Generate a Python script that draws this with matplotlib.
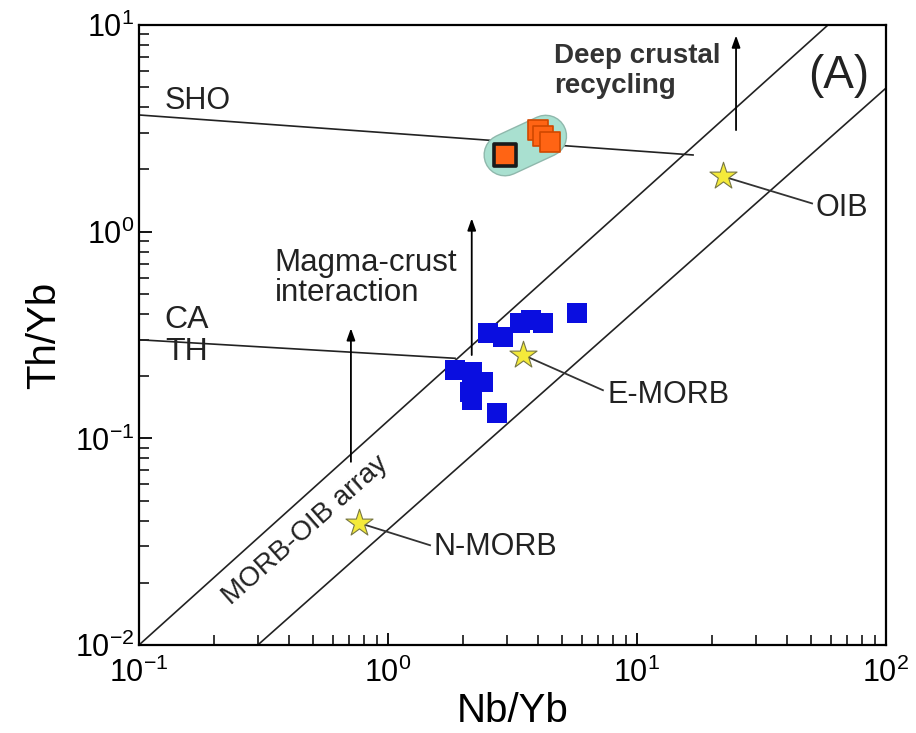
import matplotlib
matplotlib.use("Agg")
import matplotlib.pyplot as plt
from matplotlib.ticker import LogLocator, NullFormatter

plt.rcParams['font.family'] = ['Liberation Sans', 'DejaVu Sans']
plt.rcParams['mathtext.fontset'] = 'custom'
plt.rcParams['mathtext.rm'] = 'Liberation Sans'
plt.rcParams['mathtext.it'] = 'Liberation Sans'
plt.rcParams['mathtext.default'] = 'regular'

# sample data (Nb/Yb, Th/Yb)
blue_nb = [5.74, 2.52, 2.90, 3.39, 3.75, 4.19, 1.86, 2.17, 2.41, 2.13, 2.17, 2.74]
blue_th = [0.404, 0.323, 0.309, 0.361, 0.373, 0.361, 0.214, 0.209, 0.187, 0.168, 0.153, 0.132]
orange_nb = [4.0, 4.19, 4.48]
orange_th = [3.10, 2.90, 2.72]
dark_nb = [2.95]
dark_th = [2.35]

# reference compositions
ref_names = ['OIB', 'E-MORB', 'N-MORB']
ref_nb = [22.2, 3.5, 0.764]
ref_th = [1.85, 0.253, 0.039]
label_anchor_nb = [50.5, 7.3, 1.476]
label_anchor_th = [1.37, 0.171, 0.0304]

# boundary lines
array_upper_nb = [0.1, 58.5]
array_upper_th = [0.01, 10]
array_lower_nb = [0.3, 100]
array_lower_th = [0.01, 4.95]
sho_ca_nb = [0.1, 16.8]
sho_ca_th = [3.67, 2.35]
ca_th_nb = [0.1, 1.86]
ca_th_th = [0.30, 0.244]

# trend arrows: x, y start, y end
arrow_x = [0.71, 2.17, 25.0]
arrow_y0 = [0.077, 0.253, 3.1]
arrow_y1 = [0.341, 1.16, 8.9]

fig = plt.figure(figsize=(9.16, 7.33), dpi=100)
ax = fig.add_axes([0.1517, 0.12, 0.8155, 0.8459])
ax.set_xscale('log')
ax.set_yscale('log')
ax.set_xlim(0.1, 100)
ax.set_ylim(0.01, 10)

lc = '#222222'
ax.plot(array_upper_nb, array_upper_th, color=lc, lw=1.2)
ax.plot(array_lower_nb, array_lower_th, color=lc, lw=1.2)
ax.plot(sho_ca_nb, sho_ca_th, color=lc, lw=1.2)
ax.plot(ca_th_nb, ca_th_th, color=lc, lw=1.2)

for x, y0, y1 in zip(arrow_x, arrow_y0, arrow_y1):
    ax.annotate('', xy=(x, y1), xytext=(x, y0),
                arrowprops=dict(arrowstyle='-|>,head_length=0.7,head_width=0.25',
                                color='black', lw=1.3, shrinkA=0, shrinkB=0))

# leader lines from reference stars to their labels
for x, y, lx, ly in zip(ref_nb, ref_th, label_anchor_nb, label_anchor_th):
    ax.plot([x, lx], [y, ly], color='#333333', lw=1.3, zorder=2)

# shaded field around the orange group
blob_x = [dark_nb[0], 4.3]
blob_y = [dark_th[0], 2.9]
ax.plot(blob_x, blob_y, color='#8fb8ac', lw=31, solid_capstyle='round', zorder=3)
ax.plot(blob_x, blob_y, color='#a9e0d0', lw=29, solid_capstyle='round', zorder=3)

ax.scatter(blue_nb, blue_th, marker='s', s=210, color='#0a0ee0', lw=0, zorder=4)
ax.scatter(orange_nb, orange_th, marker='s', s=200, color='#ff6414',
           edgecolor='#d04800', lw=1.2, zorder=5)
ax.scatter(dark_nb, dark_th, marker='s', s=250, color='#ff6414',
           edgecolor='#1a1a1a', lw=2.6, zorder=5)
ax.scatter(ref_nb, ref_th, marker='*', s=420, color='#f4ea3a',
           edgecolor='#777744', lw=0.8, zorder=6)

tc = '#222222'
ax.text(0.127, 4.29, 'SHO', fontsize=22, va='center', ha='left', color=tc)
ax.text(0.127, 0.375, 'CA', fontsize=23, va='center', ha='left', color=tc)
ax.text(0.127, 0.262, 'TH', fontsize=23, va='center', ha='left', color=tc)
ax.text(0.350, 0.595, 'Magma-crust\ninteraction', fontsize=22.5, va='center',
        ha='left', linespacing=1.0, color=tc)
ax.text(4.64, 5.98, 'Deep crustal\nrecycling', fontsize=20, fontweight='bold',
        va='center', ha='left', linespacing=1.2, color='#333333')
ax.text(64.7, 5.66, '(A)', fontsize=33, va='center', ha='center', color=tc)
ax.text(51.9, 1.30, 'OIB', fontsize=22, va='center', ha='left', color=tc)
ax.text(7.65, 0.162, 'E-MORB', fontsize=22, va='center', ha='left', color=tc)
ax.text(1.53, 0.0298, 'N-MORB', fontsize=22, va='center', ha='left', color=tc)
ax.text(0.464, 0.0357, 'MORB-OIB array', fontsize=20, va='center', ha='center',
        rotation=41.5, rotation_mode='anchor', color=tc)

ax.set_xlabel('Nb/Yb', fontsize=29, labelpad=2)
ax.set_ylabel('Th/Yb', fontsize=29, labelpad=8)

for side in ['left', 'right', 'top', 'bottom']:
    ax.spines[side].set_linewidth(1.6)
ax.xaxis.set_major_locator(LogLocator(base=10, numticks=10))
ax.yaxis.set_major_locator(LogLocator(base=10, numticks=10))
ax.xaxis.set_minor_locator(LogLocator(base=10, subs=range(2, 10), numticks=10))
ax.yaxis.set_minor_locator(LogLocator(base=10, subs=range(2, 10), numticks=10))
ax.xaxis.set_minor_formatter(NullFormatter())
ax.yaxis.set_minor_formatter(NullFormatter())
ax.tick_params(axis='x', which='major', pad=9)
ax.tick_params(which='major', direction='in', length=9, width=1.3,
               labelsize=22, top=False, right=False)
ax.tick_params(which='minor', direction='in', length=7, width=1.1,
               top=False, right=False)

fig.savefig('out.png', dpi=100)
